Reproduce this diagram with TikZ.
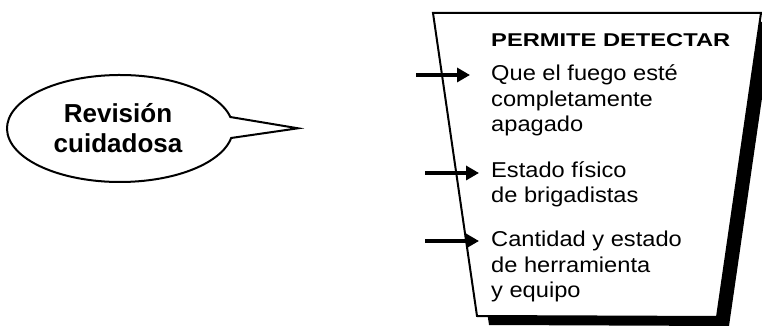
\documentclass[tikz,border=0pt]{standalone}
\usepackage{fontspec}
\setmainfont{Liberation Sans}
\newfontfamily\bodyfont[FakeStretch=1.1]{Liberation Sans}
\newfontfamily\headfont[FakeStretch=1.28]{Liberation Sans}
\usetikzlibrary{arrows.meta}
\begin{document}
\begin{tikzpicture}[x=1pt,y=1pt,line join=miter,
  outline/.style={line width=2pt},
  itemtext/.style={anchor=base west,align=left,inner sep=0pt,font=\bodyfont\fontsize{21.5}{25.5}\selectfont},
  headtext/.style={anchor=base west,inner sep=0pt,font=\headfont\bfseries\fontsize{18.5}{22}\selectfont},
  bubbletext/.style={anchor=base,align=center,inner sep=0pt,font=\bfseries\fontsize{26}{30}\selectfont},
  arr/.style={line width=4.6pt,-{Triangle[length=13pt,width=14pt]}}]
\useasboundingbox (0,0) rectangle (762,326);
% trapezoid corners
\coordinate (TL) at (433,313);
\coordinate (TR) at (761,313);
\coordinate (BR) at (717,9);
\coordinate (BL) at (477,10);
% shadow
\begin{scope}
  \clip (0,0) rectangle (762,326);
  \fill[black] ([shift={(12,-9)}]TL) -- ([shift={(12,-9)}]TR) -- ([shift={(12,-9)}]BR) -- ([shift={(12,-9)}]BL) -- cycle;
\end{scope}
\draw[outline, fill=white] (TL) -- (TR) -- (BR) -- (BL) -- cycle;
% speech bubble
\coordinate (bc) at (120,197.5);
\coordinate (tip) at (298,197.7);
\draw[outline, fill=white] (tip) -- ([shift={(12.4:113pt and 53.5pt)}]bc)
  arc[start angle=12.4, end angle=349.8, x radius=113pt, y radius=53.5pt] -- cycle;
\node[bubbletext] (bubble) at (118,173) {Revisión\\cuidadosa};
% texts
\node[headtext] (head) at (491,279.7) {PERMITE DETECTAR};
\node[itemtext] (t1) at (491,194) {Que el fuego esté\\completamente\\apagado};
\node[itemtext] (t2) at (491,123) {Estado físico\\de brigadistas};
\node[itemtext] (t3) at (491,28) {Cantidad y estado\\de herramienta\\y equipo};
% arrows
\coordinate (s1) at (416,251);
\coordinate (s2) at (425,153);
\coordinate (s3) at (425,85);
\draw[arr, shorten >=21pt] (s1) -- (s1 -| t1.west);
\draw[arr, shorten >=12pt] (s2) -- (s2 -| t2.west);
\draw[arr, shorten >=12pt] (s3) -- (s3 -| t3.west);
\end{tikzpicture}
\end{document}
